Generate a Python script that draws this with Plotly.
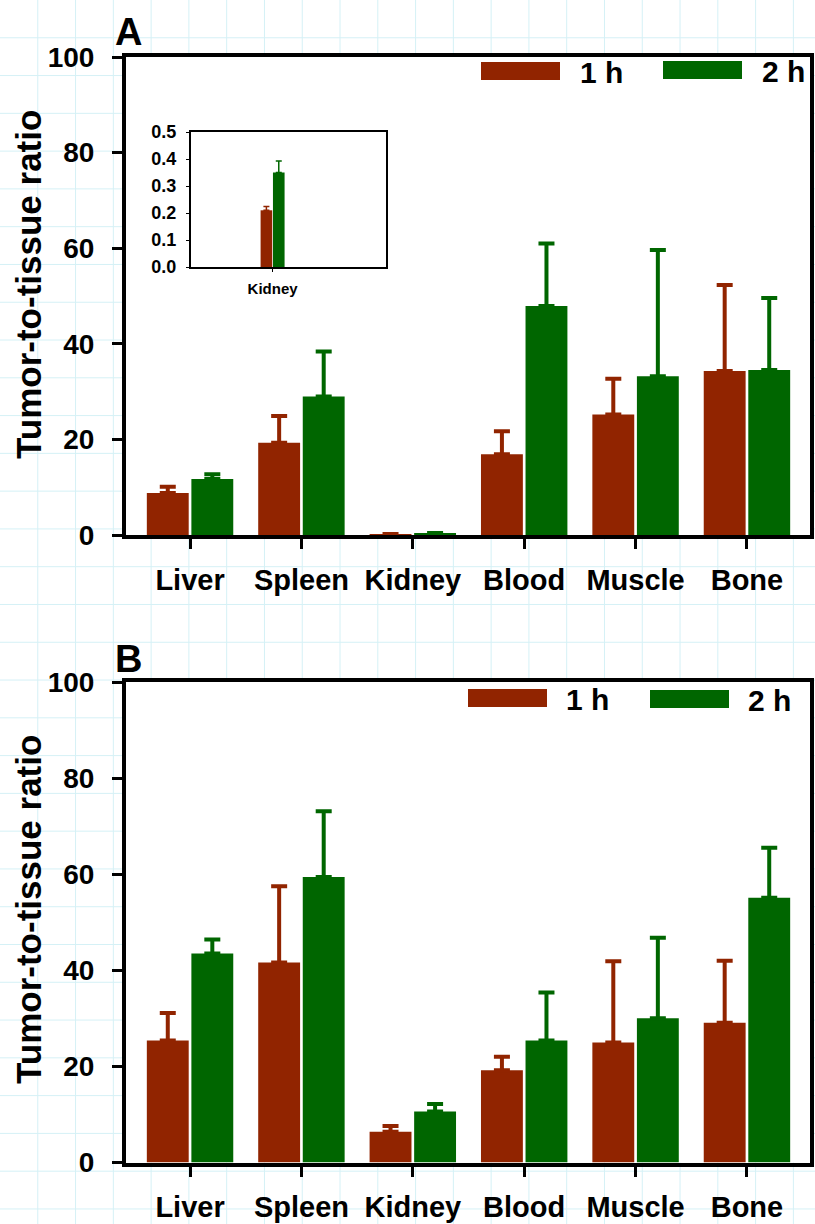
import plotly.graph_objects as go

# ---------------- data ----------------
categories = ["Liver", "Spleen", "Kidney", "Blood", "Muscle", "Bone"]
series_names = ["1 h", "2 h"]

a_1h = [8.8, 19.3, 0.21, 16.9, 25.2, 34.3]
a_1h_err = [1.3, 5.6, 0.014, 4.8, 7.5, 18.0]
a_2h = [11.7, 29.0, 0.35, 47.9, 33.2, 34.5]
a_2h_err = [1.0, 9.4, 0.043, 13.1, 26.4, 15.1]

b_1h = [25.4, 41.6, 6.4, 19.2, 25.0, 29.1]
b_1h_err = [5.7, 15.9, 1.2, 2.8, 16.9, 12.9]
b_2h = [43.5, 59.4, 10.6, 25.4, 30.0, 55.1]
b_2h_err = [2.9, 13.7, 1.6, 10.0, 16.8, 10.4]

inset_category = ["Kidney"]
inset_1h = [a_1h[2]]
inset_1h_err = [a_1h_err[2]]
inset_2h = [a_2h[2]]
inset_2h_err = [a_2h_err[2]]

y_ticks = [0, 20, 40, 60, 80, 100]
inset_ticks = [0.0, 0.1, 0.2, 0.3, 0.4, 0.5]

# ---------------- style ----------------
W, H = 815, 1224
RED = "#912400"
GREEN = "#006600"
GRID = "#d5f1f6"
FONT = "Liberation Sans, Arial, Helvetica, sans-serif"


def px(x):
    return x / W


def py(y):
    return 1 - y / H


fig = go.Figure()


def add_bars(x, y, err, color, xa, ya, name, thick, capw):
    fig.add_trace(go.Bar(
        x=x, y=y, name=name, xaxis=xa, yaxis=ya,
        marker=dict(color=color, line=dict(width=0)),
        error_y=dict(type="data", symmetric=False, array=err,
                     arrayminus=[0] * len(err), color=color,
                     thickness=thick, width=capw),
        showlegend=False,
    ))


add_bars(categories, a_1h, a_1h_err, RED, "x", "y", series_names[0], 4, 8)
add_bars(categories, a_2h, a_2h_err, GREEN, "x", "y", series_names[1], 4, 8)
add_bars(categories, b_1h, b_1h_err, RED, "x2", "y2", series_names[0], 4, 8)
add_bars(categories, b_2h, b_2h_err, GREEN, "x2", "y2", series_names[1], 4, 8)
add_bars(inset_category, inset_1h, inset_1h_err, RED, "x3", "y3", series_names[0], 1.5, 3)
add_bars(inset_category, inset_2h, inset_2h_err, GREEN, "x3", "y3", series_names[1], 1.5, 3)

main_x = dict(
    type="category", range=[-0.575, 5.566],
    showline=True, linewidth=4, linecolor="black", mirror=True,
    ticks="outside", ticklen=10, tickwidth=3, tickcolor="black",
    tickfont=dict(family=FONT, size=29, color="black", weight="bold"),
    ticklabelstandoff=6, showgrid=False, zeroline=False, automargin=False,
)
main_y = dict(
    range=[0, 100], tickvals=y_ticks,
    showline=True, linewidth=4, linecolor="black", mirror=True,
    ticks="outside", ticklen=10, tickwidth=3, tickcolor="black",
    tickfont=dict(family=FONT, size=28, color="black", weight="bold"),
    ticklabelstandoff=12, showgrid=False, zeroline=False, automargin=False,
)

fig.update_layout(
    width=W, height=H, autosize=False,
    margin=dict(l=0, r=0, t=0, b=0, pad=0),
    paper_bgcolor="white", plot_bgcolor="white",
    barmode="group", bargap=0.2, bargroupgap=0.06,
    showlegend=False,
    xaxis=dict(main_x, domain=[px(126), px(810)], anchor="y"),
    yaxis=dict(main_y, domain=[py(535), py(57)], anchor="x"),
    xaxis2=dict(main_x, domain=[px(126), px(810)], anchor="y2"),
    yaxis2=dict(main_y, domain=[py(1162.5), py(682)], anchor="x2"),
    xaxis3=dict(
        type="category", range=[-2.64, 3.67], domain=[px(191), px(386)], anchor="y3",
        showline=True, linewidth=2, linecolor="black", mirror=True,
        ticks="outside", ticklen=3, tickwidth=1, tickcolor="black",
        tickfont=dict(family=FONT, size=15, color="black", weight="bold"),
        ticklabelstandoff=4, showgrid=False, zeroline=False, automargin=False,
    ),
    yaxis3=dict(
        range=[0, 0.5], tickvals=inset_ticks, tickformat=".1f",
        domain=[py(267), py(132)], anchor="x3",
        showline=True, linewidth=2, linecolor="black", mirror=True,
        ticks="outside", ticklen=3, tickwidth=1, tickcolor="black",
        tickfont=dict(family=FONT, size=18, color="black", weight="bold"),
        ticklabelstandoff=6, showgrid=False, zeroline=False, automargin=False,
    ),
)

# ---------------- graph-paper background ----------------
shapes = []
step = 37.78
k = 1
while k * step < W:
    shapes.append(dict(type="line", xref="paper", yref="paper", layer="below",
                       x0=px(k * step), x1=px(k * step), y0=0, y1=1,
                       line=dict(color=GRID, width=1)))
    k += 1
k = 1
while k * step < H:
    shapes.append(dict(type="line", xref="paper", yref="paper", layer="below",
                       x0=0, x1=1, y0=py(k * step), y1=py(k * step),
                       line=dict(color=GRID, width=1)))
    k += 1
# white plot areas above the paper grid
for (l, t, r, b) in [(126, 57, 810, 535), (126, 682, 810, 1162.5)]:
    shapes.append(dict(type="rect", xref="paper", yref="paper", layer="below",
                       x0=px(l), x1=px(r), y0=py(b), y1=py(t),
                       fillcolor="white", line=dict(width=0)))

# ---------------- legends ----------------
legend_specs = [
    # (rect left, rect top, text left, color, label)
    (481, 62, 578, RED, series_names[0]),
    (663, 61, 760, GREEN, series_names[1]),
    (468, 689, 564, RED, series_names[0]),
    (650, 690, 746, GREEN, series_names[1]),
]
annotations = []
for (l, t, tl, c, lab) in legend_specs:
    shapes.append(dict(type="rect", xref="paper", yref="paper", layer="above",
                       x0=px(l), x1=px(l + 79), y0=py(t + 18), y1=py(t),
                       fillcolor=c, line=dict(width=0)))
    annotations.append(dict(xref="paper", yref="paper", x=px(tl), y=py(t + 10),
                            xanchor="left", yanchor="middle", showarrow=False,
                            text=lab,
                            font=dict(family=FONT, size=30, color="black", weight="bold")))

# panel letters
for (lab, x, y) in [("A", 113, 32), ("B", 113, 659)]:
    annotations.append(dict(xref="paper", yref="paper", x=px(x), y=py(y),
                            xanchor="left", yanchor="middle", showarrow=False,
                            text=lab,
                            font=dict(family=FONT, size=38, color="black", weight="bold")))

# y-axis titles
for yc in [285, 910]:
    annotations.append(dict(xref="paper", yref="paper", x=px(28), y=py(yc),
                            xanchor="center", yanchor="middle", showarrow=False,
                            textangle=-90, text="Tumor-to-tissue ratio",
                            font=dict(family=FONT, size=35, color="black", weight="bold")))

fig.update_layout(shapes=shapes, annotations=annotations)

fig.write_html("out.html")
